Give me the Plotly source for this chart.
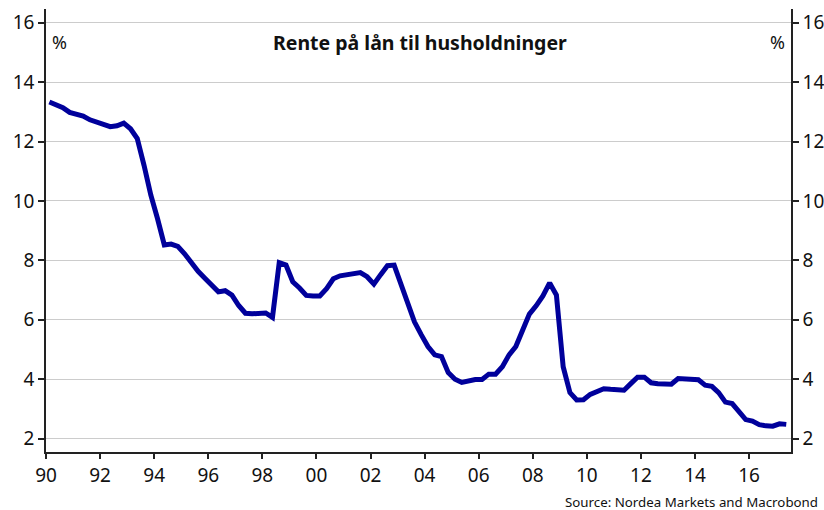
import plotly.graph_objects as go

# Quarterly observations, 1990Q1 .. 2017Q2 (plotted at mid-quarter)
start_year = 1990
rate = [
    13.33, 13.25, 13.14, 12.98,   # 1990
    12.93, 12.86, 12.73, 12.66,   # 1991
    12.60, 12.50, 12.53, 12.62,   # 1992
    12.43, 12.10, 11.20, 10.20,   # 1993
    9.40, 8.52, 8.55, 8.47,       # 1994
    8.22, 7.92, 7.63, 7.40,       # 1995
    7.18, 6.94, 6.98, 6.83,       # 1996
    6.48, 6.22, 6.20, 6.20,       # 1997
    6.23, 6.08, 7.92, 7.84,       # 1998
    7.28, 7.07, 6.82, 6.80,       # 1999
    6.80, 7.05, 7.38, 7.48,       # 2000
    7.53, 7.57, 7.59, 7.45,       # 2001
    7.20, 7.52, 7.82, 7.84,       # 2002
    7.20, 6.60, 5.93, 5.50,       # 2003
    5.10, 4.82, 4.76, 4.22,       # 2004
    4.00, 3.89, 3.94, 3.99,       # 2005
    3.99, 4.17, 4.17, 4.42,       # 2006
    4.82, 5.10, 5.65, 6.19,       # 2007
    6.47, 6.80, 7.24, 6.83,       # 2008
    4.42, 3.55, 3.30, 3.31,       # 2009
    3.49, 3.60, 3.68, 3.66,       # 2010
    3.64, 3.63, 3.85, 4.07,       # 2011
    4.07, 3.88, 3.85, 3.84,       # 2012
    3.83, 4.02, 4.02, 4.00,       # 2013
    3.98, 3.80, 3.76, 3.55,       # 2014
    3.23, 3.18, 2.90, 2.64,       # 2015
    2.59, 2.47, 2.43, 2.42,       # 2016
    2.50, 2.48,                   # 2017
]
dates = [start_year + 0.125 + 0.25 * i for i in range(len(rate))]

x_tick_vals = list(range(1990, 2017, 2))
x_tick_text = ["90", "92", "94", "96", "98", "00", "02", "04", "06", "08",
               "10", "12", "14", "16"]
y_tick_vals = [2, 4, 6, 8, 10, 12, 14, 16]

title_text = "Rente på lån til husholdninger"
source_text = "Source: Nordea Markets and Macrobond"

LINE = "#00009b"
AX = "#222222"
GRID = "#cccccc"
FONT = "Noto Sans"
TXT = "#111111"

W, H = 824, 510
ML, MR, MT, MB = 46, 33, 9, 58
plot_w = W - ML - MR
plot_h = H - MT - MB


def px_x(px):
    return (px - ML) / plot_w


def px_y(py):
    return 1 - (py - MT) / plot_h


fig = go.Figure()
fig.add_trace(go.Scatter(x=dates, y=rate, mode="lines",
                         line=dict(color=LINE, width=5),
                         showlegend=False, hoverinfo="x+y"))
fig.add_trace(go.Scatter(x=dates, y=rate, mode="lines", yaxis="y2",
                         line=dict(color=LINE, width=5), opacity=0,
                         showlegend=False, hoverinfo="skip"))

yr = [1.55, 16.46]
axis_common = dict(zeroline=False, showline=True, linecolor=AX, linewidth=1.5,
                   ticks="outside", tickcolor=AX, tickwidth=1.5, automargin=False,
                   tickfont=dict(size=19, family=FONT, color=TXT))
fig.update_layout(
    width=W, height=H,
    margin=dict(l=ML, r=MR, t=MT, b=MB, autoexpand=False),
    paper_bgcolor="white", plot_bgcolor="white",
    font=dict(family=FONT, color=TXT),
    xaxis=dict(range=[1990, 2017.55], tickvals=x_tick_vals, ticktext=x_tick_text,
               showgrid=False, ticklen=5, **axis_common),
    yaxis=dict(range=yr, tickvals=y_tick_vals, showgrid=True, gridcolor=GRID,
               gridwidth=1, ticklen=6, **axis_common),
    yaxis2=dict(range=yr, tickvals=y_tick_vals, overlaying="y", side="right",
                showgrid=False, ticklen=6, **axis_common),
    annotations=[
        dict(text="<b>" + title_text + "</b>", x=px_x(420), y=px_y(42), xref="paper",
             yref="paper", yanchor="middle", showarrow=False,
             font=dict(size=19.5, family=FONT, color=TXT)),
        dict(text="%", x=px_x(50), y=px_y(42), xref="paper", yref="paper",
             xanchor="left", yanchor="middle", showarrow=False,
             font=dict(size=18, family=FONT, color=TXT)),
        dict(text="%", x=px_x(787), y=px_y(42), xref="paper", yref="paper",
             xanchor="right", yanchor="middle", showarrow=False,
             font=dict(size=18, family=FONT, color=TXT)),
        dict(text=source_text, x=px_x(820), y=px_y(502), xref="paper", yref="paper",
             xanchor="right", yanchor="middle", showarrow=False,
             font=dict(size=13.3, family=FONT, color=TXT)),
    ],
)

fig.write_html("out.html",
               config={"displayModeBar": False},
               post_script="document.body.style.margin='0';"
                           "document.body.style.overflow='hidden';")
